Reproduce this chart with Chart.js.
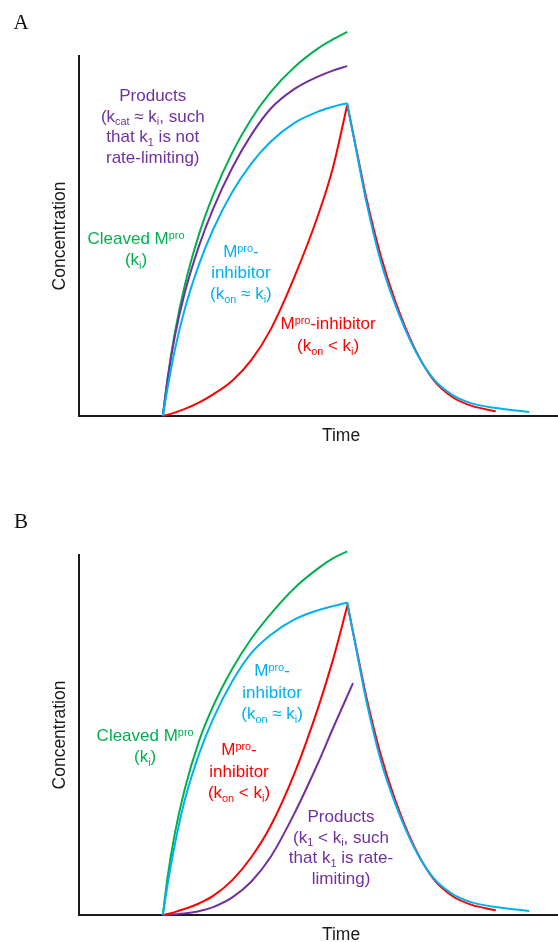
<!DOCTYPE html>
<html>
<head>
<meta charset="utf-8">
<script src="https://cdn.jsdelivr.net/npm/chart.js@4.4.1/dist/chart.umd.min.js"></script>
<style>
  html, body { margin: 0; padding: 0; background: #fff; }
  canvas { display: block; }
</style>
</head>
<body>
<canvas id="chartA" width="558" height="470"></canvas>
<canvas id="chartB" width="558" height="472"></canvas>
<script>
// time axis is arbitrary (0-100), concentration too (0-100 = top of y axis)
const tRise = [17.5, 18.5, 20, 22, 25, 28, 32, 36, 40, 45, 50, 53, 56];
const tFall = [56, 58, 60, 63, 66, 70, 74, 78, 82, 87, 94];
const tRedFall = [56, 58, 60, 63, 66, 70, 74, 78, 82, 87];
const tProductsB = [17.5, 18.5, 20, 22, 25, 28, 32, 36, 40, 45, 50, 53, 57.2];

// panel A
const cleavedA = [0, 10.6, 23.05, 35.85, 50.25, 61.35, 73.15, 82.55, 89.95, 96.95, 102.2, 104.6, 106.7];
const productsA = [0, 10.2, 22.05, 33.85, 47.05, 57.55, 68.95, 78.15, 85.35, 90.85, 94.35, 95.95, 97.2];
const inhibFastA = [0, 7.8, 18.3, 29.3, 41.9, 51.8, 62.2, 70.2, 76.2, 81.45, 84.6, 85.9, 86.9];
const inhibSlowA = [0, 0.35, 0.95, 1.9, 3.7, 6.0, 9.8, 15.6, 24.0, 38.7, 56.1, 68.9, 86.4];

// panel B
const cleavedB = [0, 10.6, 22.6, 34.6, 48.1, 58, 68.4, 76.8, 83.6, 90.85, 96.35, 99.05, 101];
const productsB = [0, 0.05, 0.2, 0.45, 1.05, 2.2, 4.9, 9.3, 16.1, 28.3, 42.5, 51.8, 64.4];
const inhibFastB = [0, 8.5, 19.5, 31.5, 44.5, 54.5, 64.9, 72.8, 77.8, 82.1, 84.7, 85.8, 86.8];
const inhibSlowB = [0, 0.3, 0.8, 1.65, 3.2, 5.3, 9.7, 16.1, 24.7, 39.4, 57.9, 70.8, 85.8];

// dissociation after the peak (same in both panels)
const inhibFastFall = [86.9, 73.0, 59.4, 42.9, 31, 18.7, 10.3, 5.8, 3.5, 2.2, 1.1];
const inhibSlowFall = [86.4, 73.5, 60.5, 44.5, 32, 19, 10, 5.2, 2.8, 1.3];

const GREEN = '#00B050', PURPLE = '#7030A0', CYAN = '#00B0F0', RED = '#FF0000';
const SANS = '"Liberation Sans", Arial, sans-serif';

function series(times, vals, color) {
  return {
    data: times.map((t, i) => ({ x: t, y: vals[i] })),
    borderColor: color,
    borderWidth: 2,
    pointRadius: 0,
    fill: false,
    cubicInterpolationMode: 'monotone',
    clip: false
  };
}

// draws one line of text with sub/superscripts, centred on cx
function richLine(ctx, line, cx, cy, size) {
  const segs = line.map(s => typeof s === 'string' ? [s, null] : s);
  const font = m => (m ? size * 0.64 : size) + 'px ' + SANS;
  let w = 0;
  segs.forEach(([t, m]) => { ctx.font = font(m); w += ctx.measureText(t).width; });
  let x = cx - w / 2;
  const base = cy + size * 0.36;
  segs.forEach(([t, m]) => {
    ctx.font = font(m);
    const dy = m === 'sub' ? size * 0.22 : m === 'sup' ? -size * 0.32 : 0;
    ctx.fillText(t, x, base + dy);
    x += ctx.measureText(t).width;
  });
}

function textPlugin(panel, labels) {
  return {
    id: 'notes' + panel,
    afterDraw(chart) {
      const ctx = chart.ctx;
      const xs = chart.scales.x, ys = chart.scales.y;
      const area = chart.chartArea;
      ctx.save();
      ctx.textAlign = 'left';
      ctx.textBaseline = 'alphabetic';
      labels.forEach(lb => {
        ctx.fillStyle = lb.color;
        const cx = xs.getPixelForValue(lb.t);
        const cy = ys.getPixelForValue(lb.v);
        lb.lines.forEach((ln, i) => richLine(ctx, ln, cx, cy + i * lb.gap, 17));
      });
      // axis titles
      ctx.fillStyle = '#1a1a1a';
      ctx.textAlign = 'center';
      ctx.textBaseline = 'middle';
      ctx.font = '17.5px ' + SANS;
      ctx.fillText('Time', 341, area.bottom + 20);
      ctx.save();
      ctx.translate(60, (area.top + area.bottom) / 2);
      ctx.rotate(-Math.PI / 2);
      ctx.fillText('Concentration', 0, 0);
      ctx.restore();
      // panel letter
      ctx.font = '21px "Liberation Serif", "Times New Roman", serif';
      ctx.fillStyle = '#111';
      ctx.fillText(panel, 21, panel === 'A' ? 23 : 52);
      ctx.restore();
    }
  };
}

function axis(which) {
  return {
    type: 'linear',
    min: 0,
    max: 100,
    ticks: { display: false },
    grid: { display: false, drawTicks: false },
    border: { display: true, color: '#1a1a1a', width: 2 },
    afterFit(s) { if (which === 'x') s.height = 0; else s.width = 0; }
  };
}

function makeChart(id, panel, datasets, labels, pad) {
  return new Chart(document.getElementById(id), {
    type: 'line',
    data: { datasets },
    options: {
      responsive: false,
      animation: false,
      layout: { padding: pad },
      scales: { x: axis('x'), y: axis('y') },
      plugins: { legend: { display: false }, tooltip: { enabled: false } }
    },
    plugins: [textPlugin(panel, labels)]
  });
}

const Mpro = ['M', ['pro', 'sup']];

makeChart('chartA', 'A', [
  series(tRise, inhibFastA, CYAN),
  series(tFall, inhibFastFall, CYAN),
  series(tRise, inhibSlowA, RED),
  series(tRedFall, inhibSlowFall, RED),
  series(tRise, productsA, PURPLE),
  series(tRise, cleavedA, GREEN)
], [
  { t: 15.4, v: 89.2, gap: 20.7, color: PURPLE, lines: [
    ['Products'],
    ['(k', ['cat', 'sub'], ' \u2248 k', ['i', 'sub'], ', such'],
    ['that k', ['1', 'sub'], ' is not'],
    ['rate-limiting)']
  ]},
  { t: 11.9, v: 49.4, gap: 21, color: GREEN, lines: [
    ['Cleaved ', ...Mpro],
    ['(k', ['i', 'sub'], ')']
  ]},
  { t: 33.8, v: 45.8, gap: 21, color: CYAN, lines: [
    [...Mpro, '-'],
    ['inhibitor'],
    ['(k', ['on', 'sub'], ' \u2248 k', ['i', 'sub'], ')']
  ]},
  { t: 52, v: 25.8, gap: 22, color: RED, lines: [
    [...Mpro, '-inhibitor'],
    ['(k', ['on', 'sub'], ' < k', ['i', 'sub'], ')']
  ]}
], { left: 79, top: 56, right: 0, bottom: 54 });

makeChart('chartB', 'B', [
  series(tRise, inhibFastB, CYAN),
  series(tFall, inhibFastFall, CYAN),
  series(tRise, inhibSlowB, RED),
  series(tRedFall, inhibSlowFall, RED),
  series(tProductsB, productsB, PURPLE),
  series(tRise, cleavedB, GREEN)
], [
  { t: 13.8, v: 50, gap: 21, color: GREEN, lines: [
    ['Cleaved ', ...Mpro],
    ['(k', ['i', 'sub'], ')']
  ]},
  { t: 40.3, v: 68, gap: 21.5, color: CYAN, lines: [
    [...Mpro, '-'],
    ['inhibitor'],
    ['(k', ['on', 'sub'], ' \u2248 k', ['i', 'sub'], ')']
  ]},
  { t: 33.4, v: 46.1, gap: 21.5, color: RED, lines: [
    [...Mpro, '-'],
    ['inhibitor'],
    ['(k', ['on', 'sub'], ' < k', ['i', 'sub'], ')']
  ]},
  { t: 54.7, v: 27.5, gap: 20.5, color: PURPLE, lines: [
    ['Products'],
    ['(k', ['1', 'sub'], ' < k', ['i', 'sub'], ', such'],
    ['that k', ['1', 'sub'], ' is rate-'],
    ['limiting)']
  ]}
], { left: 79, top: 85, right: 0, bottom: 27 });
</script>
</body>
</html>
